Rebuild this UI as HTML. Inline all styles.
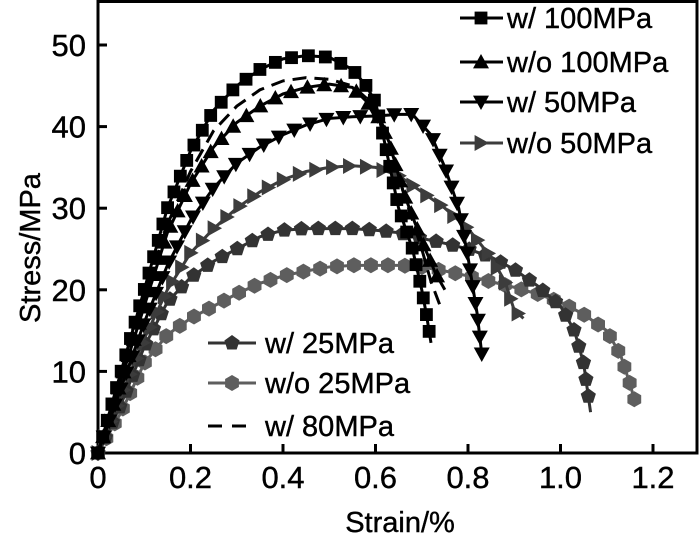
<!DOCTYPE html>
<html><head><meta charset="utf-8"><style>
html,body{margin:0;padding:0;background:#fff;}
svg text{font-family:"Liberation Sans",Arial,sans-serif;stroke:#000;stroke-width:0.4px;}
</style></head><body>
<svg id="chart" width="700" height="536" viewBox="0 0 700 536" xmlns="http://www.w3.org/2000/svg"></svg>
<script>
const xTicks=[0,0.2,0.4,0.6,0.8,1.0,1.2];
const xTickLabels=["0","0.2","0.4","0.6","0.8","1.0","1.2"];
const yTicks=[0,10,20,30,40,50];
const yTickLabels=["0","10","20","30","40","50"];
const seriesNames=["w/ 100MPa","w/o 100MPa","w/ 50MPa","w/o 50MPa","w/ 25MPa","w/o 25MPa","w/ 80MPa"];
const strainW100=[0,0.05,0.1,0.15,0.2,0.25,0.3,0.35,0.4,0.45,0.5,0.55,0.58,0.6,0.62,0.65,0.68,0.7,0.71,0.72];
const stressW100=[0,10,20,30,37,42,45,47,48.3,48.7,48.5,47,45,43,38,30,25,20,17,13.5];
const strainWo100=[0,0.05,0.1,0.15,0.2,0.25,0.3,0.35,0.4,0.45,0.5,0.55,0.6,0.63,0.66,0.7,0.73,0.75];
const stressWo100=[0,9,18,27,33,37.5,40.5,42.5,44,44.8,45.2,44.8,42,38,32,26,22,20];
const strainW50=[0,0.05,0.1,0.15,0.2,0.25,0.3,0.35,0.4,0.45,0.5,0.55,0.6,0.65,0.68,0.72,0.75,0.78,0.8,0.82,0.83];
const stressW50=[0,8,16,23,28.5,32.5,35.5,37.5,39,40.2,41,41.2,41.3,41.5,41.5,39,35,30,24,17,12];
const strainWo50=[0,0.05,0.1,0.15,0.2,0.25,0.3,0.35,0.4,0.45,0.5,0.55,0.6,0.65,0.7,0.75,0.8,0.85,0.88,0.9,0.92];
const stressWo50=[0,7,14,20,24.5,27.5,30,32,33.5,34.5,35,35.2,35,34,32,30,27.5,24,21,17.5,16.5];
const strainW25=[0,0.05,0.1,0.15,0.2,0.25,0.3,0.35,0.4,0.45,0.5,0.55,0.6,0.65,0.7,0.75,0.8,0.85,0.9,0.95,1.0,1.03,1.05,1.06,1.065];
const stressW25=[0,6,13,18.5,21.5,23.5,25,26.5,27.3,27.5,27.5,27.5,27.3,27,26.3,25.7,25,24,22.5,20.5,18,15,11,7,5];
const strainWo25=[0,0.05,0.1,0.15,0.2,0.25,0.3,0.35,0.4,0.45,0.5,0.55,0.6,0.65,0.7,0.75,0.8,0.85,0.9,0.95,1.0,1.05,1.1,1.13,1.15,1.16];
const stressWo25=[0,5,11,14.5,16.5,18,19.5,20.8,21.7,22.3,22.8,23,23,23,22.8,22.3,21.7,21,20.3,19.5,18.5,17,15,12,8.5,6.5];
const strainW80=[0,0.05,0.1,0.15,0.2,0.25,0.3,0.35,0.4,0.45,0.5,0.55,0.6,0.63,0.66,0.7,0.72,0.74];
const stressW80=[0,9.5,19,28,34.5,39.5,42.5,44.5,45.6,46,45.8,45,42.5,38,32,25,21,18];

const NS="http://www.w3.org/2000/svg";
const svg=document.getElementById('chart');
const X0=98,X1=653,Y0=453,Y1=45;
function sx(v){return X0+(v-0)/(1.2-0)*(X1-X0);}
function sy(v){return Y0-(v-0)/(50-0)*(Y0-Y1);}
function el(tag,attrs,parent){const e=document.createElementNS(NS,tag);for(const k in attrs)e.setAttribute(k,attrs[k]);(parent||svg).appendChild(e);return e;}

const frame=el('rect',{x:X0,y:1.5,width:697-X0,height:Y0-1.5,fill:'none',stroke:'#000','stroke-width':3});



xTicks.forEach((t,i)=>{
  const l=el('line',{x1:sx(t),x2:sx(t),y1:Y0,y2:Y0-9,stroke:'#000','stroke-width':3});
  
  
  const tx=el('text',{x:sx(t),y:488,'text-anchor':'middle','font-size':31});
  tx.textContent=xTickLabels[i];
  
  
});
yTicks.forEach((t,i)=>{
  const l=el('line',{x1:X0,x2:X0+9,y1:sy(t),y2:sy(t),stroke:'#000','stroke-width':3});
  
  
  const tx=el('text',{x:86,y:sy(t)+11,'text-anchor':'end','font-size':31});
  tx.textContent=yTickLabels[i];
  
  
});
const xt=el('text',{x:400,y:532,'text-anchor':'middle','font-size':29});
xt.textContent='Strain/%';


const yt=el('text',{x:0,y:0,'text-anchor':'middle','font-size':29,transform:'translate(40,248) rotate(-90)'});
yt.textContent='Stress/MPa';



function marker(type,x,y,color,s,parent){
  let e;
  const r=s;
  if(type==='square'){e=el('rect',{x:x-r*0.8,y:y-r*0.8,width:r*1.6,height:r*1.6,fill:color},parent);}
  else if(type==='up'){e=el('polygon',{points:`${x},${y-r} ${x-r},${y+r*0.8} ${x+r},${y+r*0.8}`,fill:color},parent);}
  else if(type==='down'){e=el('polygon',{points:`${x},${y+r} ${x-r},${y-r*0.8} ${x+r},${y-r*0.8}`,fill:color},parent);}
  else if(type==='right'){e=el('polygon',{points:`${x+r},${y} ${x-r*0.8},${y-r} ${x-r*0.8},${y+r}`,fill:color},parent);}
  else {const n=type==='pent'?5:6;let p=[];for(let k=0;k<n;k++){const a=-Math.PI/2+k*2*Math.PI/n;p.push((x+r*Math.cos(a)).toFixed(1)+','+(y+r*Math.sin(a)).toFixed(1));}e=el('polygon',{points:p.join(' '),fill:color},parent);}
  return e;
}
const series=[
 {xs:strainWo25,ys:stressWo25,m:'hex',c:'#5e5e5e',name:seriesNames[5]},
 {xs:strainW25,ys:stressW25,m:'pent',c:'#333',name:seriesNames[4]},
 {xs:strainWo50,ys:stressWo50,m:'right',c:'#3c3c3c',name:seriesNames[3]},
 {xs:strainW50,ys:stressW50,m:'down',c:'#000',name:seriesNames[2]},
 {xs:strainWo100,ys:stressWo100,m:'up',c:'#000',name:seriesNames[1]},
 {xs:strainW100,ys:stressW100,m:'square',c:'#000',name:seriesNames[0]},
 {xs:strainW80,ys:stressW80,m:null,c:'#000',name:seriesNames[6]}
];
series.forEach((s,si)=>{
  const g=el('g',{});
  
  
  const pts=s.xs.map((v,i)=>[sx(v),sy(s.ys[i])]);
  const path=el('polyline',{points:pts.map(p=>p.join(',')).join(' '),fill:'none',stroke:s.c,'stroke-width':3,'stroke-dasharray':s.m?'none':'14,8'},g);
  
  
  if(!s.m)return;
  const step=17;let acc=step;
  for(let i=1;i<pts.length;i++){
    const [ax,ay]=pts[i-1],[bx,by]=pts[i];const L=Math.hypot(bx-ax,by-ay);
    let d=step-acc;
    while(d<=L){const t=d/L;const mk=marker(s.m,ax+(bx-ax)*t,ay+(by-ay)*t,s.c,8,g);
      
      
      d+=step;}
    acc=(acc+L)%step;
  }
});

const legTop=[[seriesNames[0],'square','#000',18],[seriesNames[1],'up','#000',62],[seriesNames[2],'down','#000',102],[seriesNames[3],'right','#3c3c3c',143]];
legTop.forEach(([n,m,c,y])=>{
  const g=el('g',{});
  
  
  el('line',{x1:460,x2:503,y1:y,y2:y,stroke:c,'stroke-width':3},g);
  marker(m,481,y,c,8,g);
  const t=el('text',{x:507,y:y+10,'font-size':29},g);t.textContent=n;
});
const legBot=[[seriesNames[4],'pent','#333',343],[seriesNames[5],'hex','#5e5e5e',383],[seriesNames[6],null,'#000',426]];
legBot.forEach(([n,m,c,y])=>{
  const g=el('g',{});
  
  
  el('line',{x1:208,x2:256,y1:y,y2:y,stroke:c,'stroke-width':3,'stroke-dasharray':m?'none':'14,10'},g);
  if(m)marker(m,232,y,c,8,g);
  const t=el('text',{x:265,y:y+10,'font-size':29},g);t.textContent=n;
});
</script>
</body></html>
